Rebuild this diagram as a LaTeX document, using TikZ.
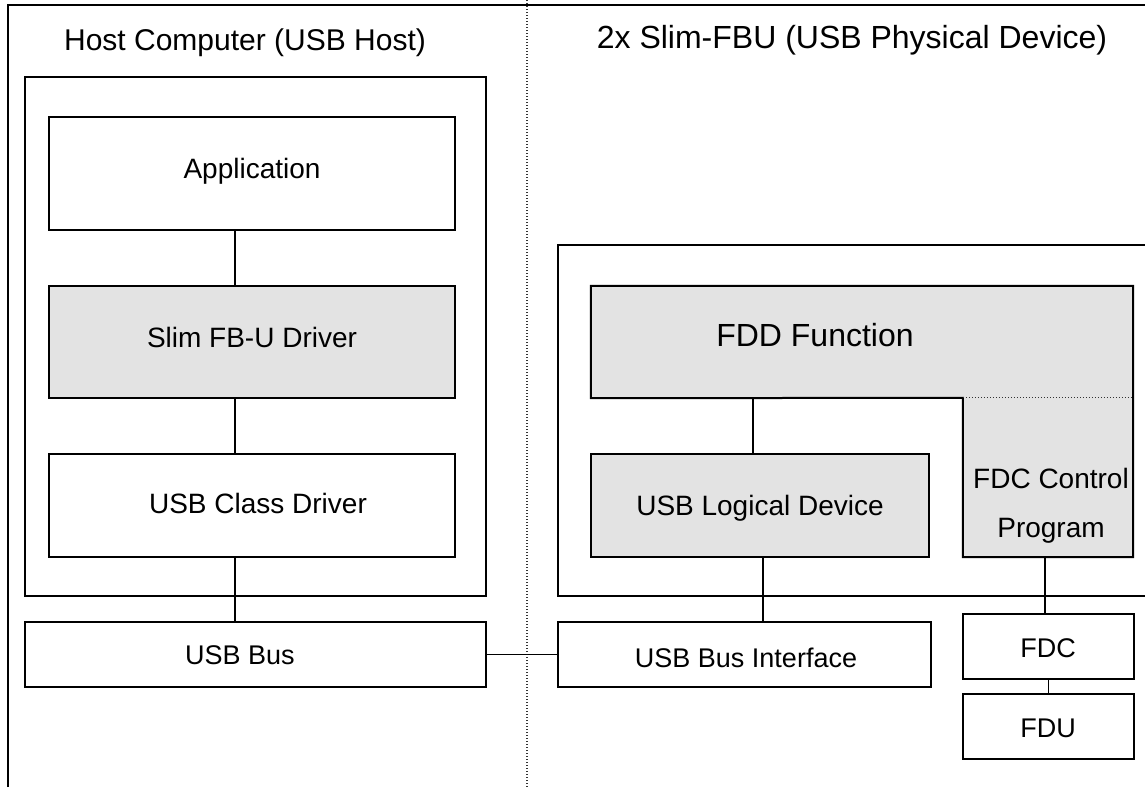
\documentclass[tikz,border=0pt]{standalone}
\usepackage{fontspec}
\setmainfont{Liberation Sans}
\definecolor{boxgray}{HTML}{E3E3E3}
\tikzset{
  box/.style={draw=black, line width=2pt, inner sep=0pt, minimum width=#1},
  box/.default=100pt,
  nodraw/.style={inner sep=0pt},
  link/.style={draw=black, line width=1.6pt},
  frame/.style={draw=black, line width=2.2pt},
  divider/.style={draw=black!80, line width=1.4pt, dash pattern=on 1.4pt off 1.6pt},
  txt/.style={inner sep=0pt, anchor=base, font=\fontsize{28}{34}\selectfont},
  bustxt/.style={inner sep=0pt, anchor=base, font=\fontsize{27}{32}\selectfont},
  titletxt/.style={inner sep=0pt, anchor=base, font=\fontsize{30}{36}\selectfont},
  bigtxt/.style={inner sep=0pt, anchor=base, font=\fontsize{32}{38}\selectfont},
}
\begin{document}
\begin{tikzpicture}[x=1pt, y=-1pt]
\useasboundingbox (0,0) rectangle (1145,787);

% outer frame and divider
\draw[frame] (8,787) -- (8,5) -- (1145,5);
\draw[divider] (527,0) -- (527,787);

% titles
\node[titletxt] (thost) at (245,50) {Host Computer (USB Host)};
\node[bigtxt] (tdev) at (852,48) {2x Slim-FBU (USB Physical Device)};

% host side
\node[box=461pt, minimum height=519pt, line width=2.2pt] (host) at (255.5,336.5) {};
\node[box=406pt, minimum height=113pt] (app) at (252,173.5) {};
\node[box=406pt, minimum height=112pt, fill=boxgray] (slim) at (252,342) {};
\node[box=406pt, minimum height=103pt] (cls) at (252,505.5) {};
\node[box=461pt, minimum height=65pt] (usbbus) at (255.5,654.5) {};

\node[txt] (tapp) at (252,178) {Application};
\node[txt] (tslim) at (252,347) {Slim FB-U Driver};
\node[txt] (tcls) at (258,513) {USB Class Driver};
\node[bustxt] (tbus) at (240,664) {USB Bus};

\draw[link] ([xshift=-17pt]app.south) -- ([xshift=-17pt]slim.north);
\draw[link] ([xshift=-17pt]slim.south) -- ([xshift=-17pt]cls.north);
\draw[link] ([xshift=-17pt]cls.south) -- ([xshift=-17pt]cls.south |- usbbus.north);

% device side container (open to the right)
\coordinate (devtl) at (1145,245);
\coordinate (devbr) at (1145,596);
\draw[frame] (devtl) -- (558,245) -- (558,596) -- (devbr);

% FDD function L-shape
\node[nodraw, minimum width=542pt, minimum height=112pt, fill=boxgray] (fdd) at (862,342) {};
\node[nodraw, minimum width=170pt, minimum height=159pt, fill=boxgray] (prog) at (1048,477.5) {};
\draw[line width=2pt, line join=miter]
  (fdd.north west) -- (fdd.north east) -- (prog.south east) -- (prog.south west)
  -- (prog.north west) -- (fdd.south west) -- cycle;
\draw[divider, line width=1.2pt] (prog.north west) -- (prog.north east);

\node[box=338pt, minimum height=103pt, fill=boxgray] (ulog) at (760,505.5) {};
\node[box=373pt, minimum height=65pt] (usbif) at (744.5,654.5) {};
\node[box=171pt, minimum height=65pt] (fdc) at (1048.5,646.5) {};
\node[box=171pt, minimum height=65pt] (fdu) at (1048.5,726.5) {};

\node[bigtxt] (tfdd) at (815,346) {FDD Function};
\node[txt] (tprog1) at (1051,488) {FDC Control};
\node[txt] (tprog2) at (1051,537) {Program};
\node[txt] (tulog) at (760,515) {USB Logical Device};
\node[bustxt] (tif) at (746,667) {USB Bus Interface};
\node[bustxt] (tfdc) at (1048,657) {FDC};
\node[bustxt] (tfdu) at (1048,737) {FDU};

% device connectors
\draw[link] ([xshift=-7pt]ulog.north) -- ([xshift=-7pt]ulog.north |- fdd.south);
\draw[link] ([xshift=3pt]ulog.south) -- ([xshift=3pt]ulog.south |- usbif.north);
\draw[link] ([xshift=-3pt]prog.south) -- ([xshift=-3pt]prog.south |- fdc.north);
\draw[link] (fdc.south) -- (fdu.north);
\draw[link] (usbbus.east) -- (usbif.west);
\end{tikzpicture}
\end{document}
